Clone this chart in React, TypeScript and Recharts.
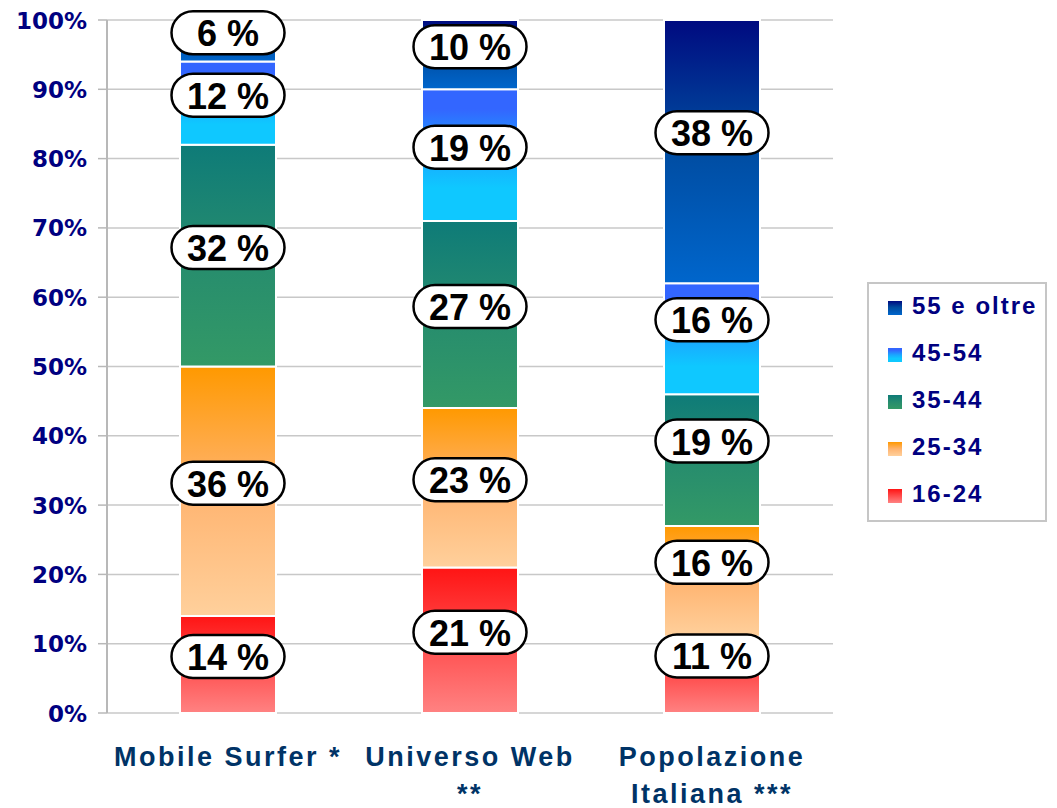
import React from "react";
import { BarChart, Bar, XAxis, YAxis, CartesianGrid, LabelList, Legend } from "recharts";

const categories = ["Mobile Surfer *", "Universo Web\n**", "Popolazione\nItaliana ***"];
const seriesNames = ["16-24", "25-34", "35-44", "45-54", "55 e oltre"];
const values1624 = [14, 21, 11];
const values2534 = [36, 23, 16];
const values3544 = [32, 27, 19];
const values4554 = [12, 19, 16];
const values55 = [6, 10, 38];
const yTicks = [0, 10, 20, 30, 40, 50, 60, 70, 80, 90, 100];

const seriesValues = [values1624, values2534, values3544, values4554, values55];
const seriesKeys = ["s0", "s1", "s2", "s3", "s4"];

// style: small vertical nudge of the label boxes per column (as in the original)
const labelNudge = [-8, -8, -19];

const gradientStops: [number, string][][] = [
  [[0, "#FF1414"], [0.5, "#FF4C4C"], [1, "#FF8282"]],
  [[0, "#FF9900"], [0.5, "#FFB470"], [1, "#FFD09C"]],
  [[0, "#0E7B78"], [0.5, "#268C6E"], [1, "#339966"]],
  [[0, "#3366FF"], [0.15, "#3366FF"], [0.5, "#1AA8FF"], [0.75, "#0FC8FF"], [1, "#0FC8FF"]],
  [[0, "#000A80"], [0.45, "#004A9E"], [1, "#0066CC"]],
];

const data = categories.map((name, i) => {
  const row: Record<string, any> = { name };
  seriesKeys.forEach((k, j) => {
    row[k] = seriesValues[j][i];
  });
  return row;
});

const edgeTicks = [...categories.map((_, i) => i), categories.length];

const renderBoxLabel = (props: any) => {
  const vb = props.viewBox && props.viewBox.width !== undefined ? props.viewBox : props;
  const x = Number(vb.x);
  const y = Number(vb.y);
  const w = Number(vb.width);
  const h = Number(vb.height);
  const top = Math.min(y, y + h);
  const cx = x + w / 2;
  const nudge = labelNudge[props.index] ?? -8;
  const cy = top + Math.abs(h) / 2 + nudge;
  return (
    <g>
      <rect x={cx - 56.5} y={cy - 21.5} width={113} height={43} rx={21.5} ry={21.5} fill="#ffffff" stroke="#000000" strokeWidth={2.5} />
      <text x={cx} y={cy + 13.5} textAnchor="middle" fill="#000000" style={{ fontFamily: '"Liberation Sans", Arial, sans-serif', fontWeight: "bold", fontSize: 36 }}>
        {`${props.value} %`}
      </text>
    </g>
  );
};

const YTick = (props: any) => {
  const { x, y, payload } = props;
  return (
    <text x={x} y={y + 8.5} textAnchor="end" fill="#000080" style={{ fontFamily: '"DejaVu Sans", sans-serif', fontWeight: "bold", fontSize: 23 }}>
      {`${payload.value}%`}
    </text>
  );
};

const XTick = (props: any) => {
  const { x, y, payload } = props;
  const lines = String(payload.value).split("\n");
  return (
    <text x={x} y={y} textAnchor="middle" fill="#003366" style={{ fontFamily: '"Liberation Sans", Arial, sans-serif', fontWeight: "bold", fontSize: 27, letterSpacing: 2.5 }}>
      {lines.map((l, i) => (
        <tspan key={i} x={x} dy={i === 0 ? 53 : 37}>
          {l}
        </tspan>
      ))}
    </text>
  );
};

const cssGradient = (stops: [number, string][]) =>
  `linear-gradient(to bottom, ${stops.map(([o, c]) => `${c} ${o * 100}%`).join(", ")})`;

const renderLegend = () => (
  <div style={{ width: 180, height: 240, border: "2px solid #C6C6C6", boxSizing: "border-box", background: "#ffffff" }}>
    {seriesNames
      .map((n, i) => ({ n, i }))
      .reverse()
      .map(({ n, i }) => (
        <div key={n} style={{ display: "flex", alignItems: "center", height: 47, marginTop: 0 }}>
          <span style={{ display: "inline-block", width: 14, height: 14, marginLeft: 19, marginRight: 10, background: cssGradient(gradientStops[i]) }} />
          <span style={{ fontFamily: '"Liberation Sans", Arial, sans-serif', fontWeight: "bold", fontSize: 24, letterSpacing: 2, color: "#000080", lineHeight: "24px", position: "relative", top: -2 }}>{n}</span>
        </div>
      ))}
  </div>
);

export default function App() {
  return (
    <div style={{ position: "absolute", left: 0, top: 0, width: 1057, height: 808, background: "#ffffff" }}>
      <BarChart width={1057} height={808} data={data} margin={{ top: 20, right: 224, bottom: 0, left: 0 }} barSize={96}>
        <defs>
          {gradientStops.map((stops, i) => (
            <linearGradient key={i} id={`grad${i}`} x1="0" y1="0" x2="0" y2="1">
              {stops.map(([o, c], j) => (
                <stop key={j} offset={o} stopColor={c} />
              ))}
            </linearGradient>
          ))}
        </defs>
        <CartesianGrid vertical={false} stroke="#C8C8C8" strokeWidth={1.5} />
        <XAxis
          xAxisId="edges"
          type="number"
          domain={[0, categories.length]}
          ticks={edgeTicks}
          allowDataOverflow
          height={0}
          tick={false}
          tickSize={9}
          tickLine={{ stroke: "#A8A8A8", strokeWidth: 2 }}
          axisLine={{ stroke: "#A8A8A8", strokeWidth: 2 }}
        />
        <XAxis dataKey="name" height={95} tickSize={0} tickMargin={0} axisLine={false} tickLine={false} tick={<XTick />} interval={0} />
        <YAxis
          width={107}
          domain={[0, 100]}
          ticks={yTicks}
          tickSize={9}
          tickMargin={11}
          tick={<YTick />}
          tickLine={{ stroke: "#B8B8B8", strokeWidth: 1.5 }}
          axisLine={{ stroke: "#B8B8B8", strokeWidth: 2 }}
          interval={0}
        />
        <YAxis yAxisId="right" orientation="right" width={0} domain={[0, 100]} tick={false} tickLine={false} axisLine={{ stroke: "#C8C8C8", strokeWidth: 2 }} />
        {seriesKeys.map((k, i) => (
          <Bar key={k} dataKey={k} name={seriesNames[i]} stackId="a" fill={`url(#grad${i})`} stroke="#ffffff" strokeWidth={2} isAnimationActive={false}>
            <LabelList dataKey={k} content={renderBoxLabel} />
          </Bar>
        ))}
        <Legend layout="horizontal" verticalAlign="middle" align="center" content={renderLegend} wrapperStyle={{ position: "absolute", left: 867, top: 282, width: 180, height: 240 }} />
      </BarChart>
    </div>
  );
}
